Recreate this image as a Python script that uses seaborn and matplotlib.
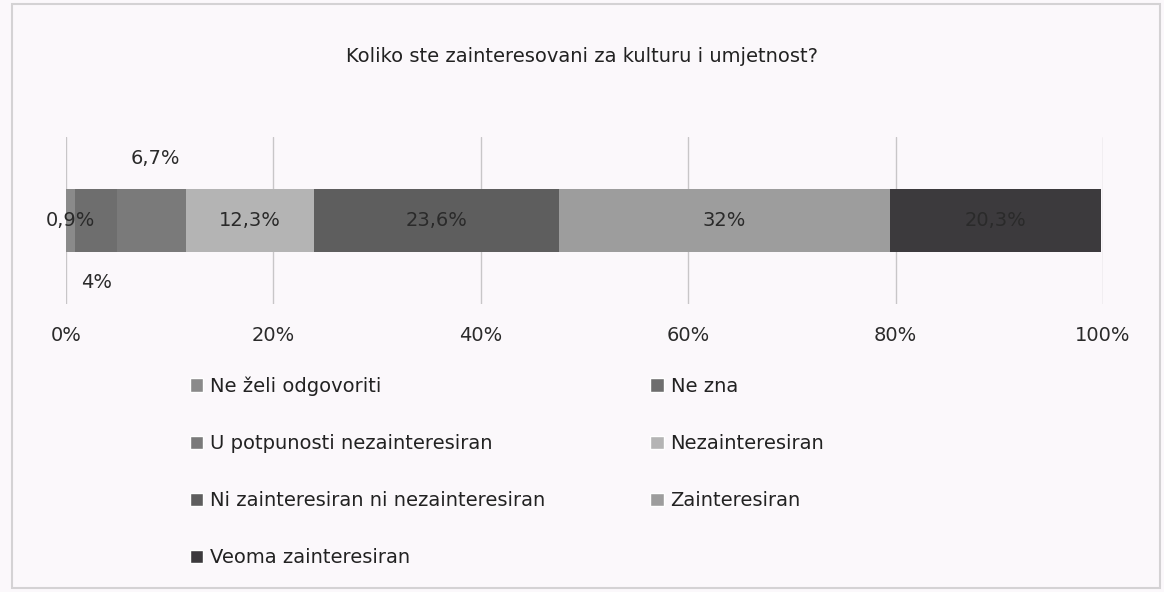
import seaborn as sns
import matplotlib.pyplot as plt
import numpy as np
import pandas as pd
from matplotlib.patches import Patch, Rectangle

# podaci
kategorije = ['Ne želi odgovoriti', 'Ne zna', 'U potpunosti nezainteresiran',
              'Nezainteresiran', 'Ni zainteresiran ni nezainteresiran',
              'Zainteresiran', 'Veoma zainteresiran']
procenti = [0.9, 4.0, 6.7, 12.3, 23.6, 32.0, 20.3]
oznake = ['0,9%', '4%', '6,7%', '12,3%', '23,6%', '32%', '20,3%']
boje = ['#8a8a8a', '#6e6e6e', '#7a7a7a', '#b4b4b4', '#5e5e5e', '#9d9d9d', '#3c3a3d']

sns.set_style('white')
plt.rcParams['font.family'] = ['DejaVu Sans']

bg = '#fbf8fb'
fig = plt.figure(figsize=(11.64, 5.92), dpi=100, facecolor=bg)
ax = fig.add_axes([66 / 1164, 1 - 304 / 592, (1103 - 66) / 1164, (304 - 137) / 592])
ax.set_facecolor(bg)

df = pd.DataFrame({'kat': kategorije, 'pct': procenti})
df['kum'] = df['pct'].cumsum()

# stacked bar: crtamo kumulativne vrijednosti od najveće prema najmanjoj
for i in reversed(range(len(df))):
    sns.barplot(x=[df['kum'][i]], y=[''], color=boje[i], width=0.38,
                saturation=1, linewidth=0, ax=ax, orient='h')

ax.set_xlim(0, 100)
ax.set_ylim(0.5, -0.5)
ax.set_xticks(np.arange(0, 101, 20))
ax.set_xticklabels([f'{t}%' for t in range(0, 101, 20)], fontsize=14, color='#2a2a2a')
ax.tick_params(axis='x', length=0, pad=16)
ax.set_yticks([])
ax.set_xlabel('')
ax.set_ylabel('')
for s in ax.spines.values():
    s.set_visible(False)
ax.grid(axis='x', color='#c8c6c8', lw=1)
ax.set_axisbelow(True)

# oznake vrijednosti
pocetak = df['kum'] - df['pct']
for i in range(len(df)):
    sred = pocetak[i] + df['pct'][i] / 2
    if i == 1:
        ax.text(sred, 0.37, oznake[i], ha='center', va='center', fontsize=14, color='#2a2a2a')
    elif i == 2:
        ax.text(sred + 0.4, -0.37, oznake[i], ha='center', va='center', fontsize=14, color='#2a2a2a')
    else:
        ax.text(sred, 0, oznake[i], ha='center', va='center', fontsize=14, color='#2a2a2a')

fig.text(0.5, 1 - 57 / 592, 'Koliko ste zainteresovani za kulturu i umjetnost?',
         ha='center', va='center', fontsize=14, color='#222222')

# legenda, redoslijed po redovima
handles = [Patch(facecolor=boje[i], label=kategorije[i]) for i in range(len(kategorije))]
red = [0, 2, 4, 6, 1, 3, 5]
fig.legend([handles[i] for i in red], [kategorije[i] for i in red], ncol=2,
           loc='upper left', bbox_to_anchor=(172 / 1164, 1 - 359 / 592),
           frameon=False, fontsize=14, handlelength=0.7, handleheight=0.7,
           handletextpad=0.35, labelspacing=1.96, columnspacing=5.4,
           labelcolor='#222222')

fig.patches.append(Rectangle((12 / 1164, 4 / 592), 1148 / 1164, 584 / 592,
                             transform=fig.transFigure, fill=False,
                             edgecolor='#d4d2d4', lw=1.5))

fig.savefig('out.png', dpi=100, facecolor=bg)
